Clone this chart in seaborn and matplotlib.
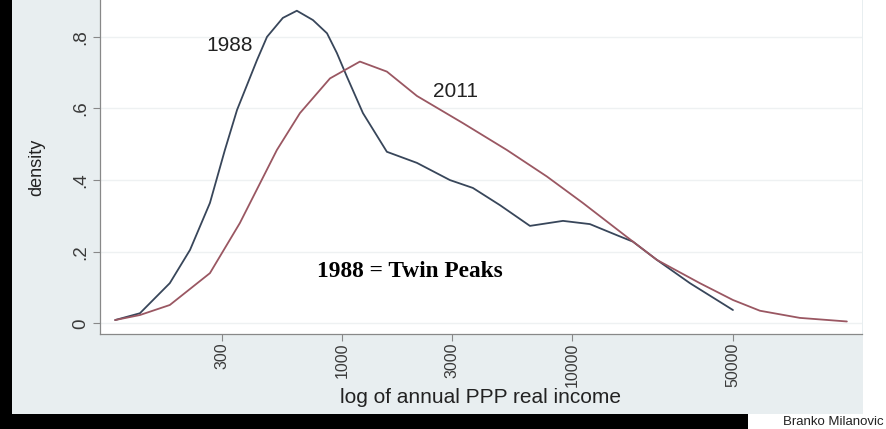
import numpy as np
import pandas as pd
import matplotlib
matplotlib.use("Agg")
import matplotlib.pyplot as plt
import seaborn as sns
from matplotlib.patches import Rectangle

# ---- data ----
income_1988 = [103, 132, 178, 218, 266, 309, 349, 426, 471, 552, 635, 746, 859, 948,
               1048, 1231, 1564, 2113, 2940, 3700, 4850, 6550, 9120, 11940, 15640,
               18360, 23350, 32500, 50000]
density_1988 = [0.009, 0.028, 0.112, 0.205, 0.336, 0.484, 0.596, 0.735, 0.800, 0.853,
                0.873, 0.847, 0.810, 0.755, 0.689, 0.587, 0.479, 0.448, 0.400, 0.378,
                0.330, 0.272, 0.286, 0.277, 0.246, 0.228, 0.177, 0.112, 0.037]

income_2011 = [103, 132, 178, 266, 359, 520, 655, 885, 1194, 1564, 2113, 3350, 5200,
               7760, 11130, 17300, 23350, 35900, 50000, 65500, 97700, 156400]
density_2011 = [0.009, 0.023, 0.051, 0.140, 0.280, 0.484, 0.587, 0.684, 0.731, 0.703,
                0.635, 0.559, 0.484, 0.410, 0.336, 0.241, 0.177, 0.112, 0.065, 0.035,
                0.015, 0.005]

x_ticks = [300, 1000, 3000, 10000, 50000]
x_tick_labels = ["300", "1000", "3000", "10000", "50000"]
y_ticks = [0, 0.2, 0.4, 0.6, 0.8]
y_tick_labels = ["0", ".2", ".4", ".6", ".8"]
series_names = ["1988", "2011"]

df = pd.concat([
    pd.DataFrame({"income": income_1988, "density": density_1988, "year": series_names[0]}),
    pd.DataFrame({"income": income_2011, "density": density_2011, "year": series_names[1]}),
], ignore_index=True)

# ---- styling ----
sns.set_theme(style="white")
plt.rcParams["font.family"] = ["Liberation Sans", "DejaVu Sans"]

panel_bg = "#e8eef0"
fig = plt.figure(figsize=(8.86, 4.29), dpi=100)
fig.patch.set_facecolor("white")

# panel background, borders
fig.add_artist(Rectangle((12 / 886, 15 / 429), (863 - 12) / 886, 1 - 15 / 429,
                         transform=fig.transFigure, facecolor=panel_bg, edgecolor="none", zorder=0))
fig.add_artist(Rectangle((0, 0), 12 / 886, 1, transform=fig.transFigure,
                         facecolor="black", edgecolor="none", zorder=1))
fig.add_artist(Rectangle((0, 0), 748 / 886, 15 / 429, transform=fig.transFigure,
                         facecolor="black", edgecolor="none", zorder=1))

ax = fig.add_axes([100 / 886, 1 - 334 / 429, 762 / 886, 334 / 429])
ax.set_facecolor("white")
ax.set_xscale("log")

palette = {"1988": "#38465a", "2011": "#9a5762"}
sns.lineplot(data=df, x="income", y="density", hue="year", palette=palette,
             sort=False, estimator=None, linewidth=1.3, legend=False, ax=ax)

ax.set_xlim(88.5, 182000)
ax.set_ylim(-0.030, 0.903)

ax.set_xticks(x_ticks)
ax.set_xticklabels(x_tick_labels, rotation=90, fontsize=11.5, color="#3a3a3a")
ax.xaxis.set_minor_locator(matplotlib.ticker.NullLocator())
ax.set_yticks(y_ticks)
ax.set_yticklabels(y_tick_labels, rotation=90, fontsize=13.5, color="#3a3a3a", va="center")

ax.tick_params(axis="both", which="major", length=5, width=0.8, color="#888888",
               bottom=True, left=True, pad=3)
ax.tick_params(axis="x", pad=1)
ax.grid(axis="y", color="#eef1f2", linewidth=1.0)
ax.grid(axis="x", visible=False)

for side in ["top", "right"]:
    ax.spines[side].set_visible(False)
for side in ["left", "bottom"]:
    ax.spines[side].set_color("#888888")
    ax.spines[side].set_linewidth(0.9)

ax.set_xlabel("log of annual PPP real income", fontsize=15, color="#222222")
ax.set_ylabel("density", fontsize=13, color="#222222")
ax.xaxis.set_label_coords(0.5, -0.19)
ax.xaxis.label.set_va("center")
ax.yaxis.set_label_coords(-0.083, 0.5)
ax.yaxis.label.set_va("center")

# annotations
ax.text(325, 0.777, "1988", fontsize=15, color="#222222", ha="center", va="center")
ax.text(3120, 0.647, "2011", fontsize=15, color="#222222", ha="center", va="center")
ax.text(1970, 0.144, "1988 = Twin Peaks", fontsize=16.8, fontweight="bold",
        family=["Liberation Serif", "DejaVu Serif"], color="black", ha="center", va="center")

fig.text(884 / 886, 7 / 429, "Branko Milanovic", fontsize=9.5, color="#222222",
         ha="right", va="center")

fig.savefig("out.png", dpi=100, facecolor=fig.get_facecolor())
